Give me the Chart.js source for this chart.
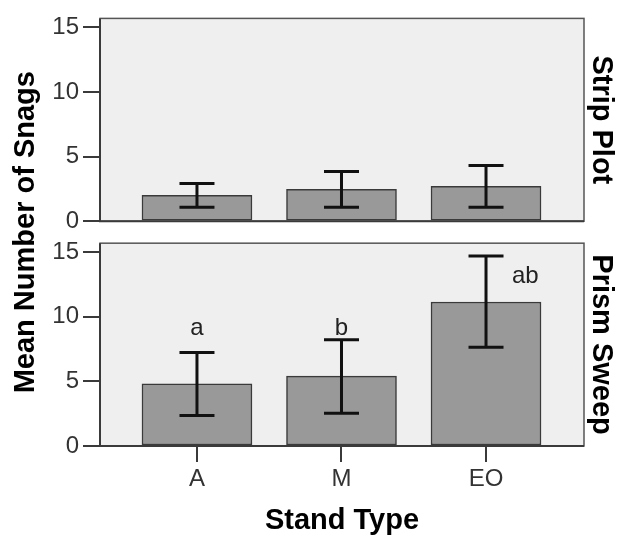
<!DOCTYPE html>
<html lang="en">
<head>
<meta charset="UTF-8">
<title>Mean Number of Snags by Stand Type</title>
<style>
  html, body { margin: 0; padding: 0; background: #fff; }
  #wrap { width: 619px; height: 538px; }
</style>
</head>
<body>
<div id="wrap"><canvas id="snags" width="619" height="538"></canvas></div>
<script src="https://cdn.jsdelivr.net/npm/chart.js@4.4.1/dist/chart.umd.min.js"></script>
<script>
// stand types along the x axis
const standTypes = ['A', 'M', 'EO'];
// facet names shown on the right
const panelNames = ['Strip Plot', 'Prism Sweep'];
const yTicks = [0, 5, 10, 15];

// strip plot: means and error bar ends
const stripMean = [2.0, 2.46, 2.7];
const stripLow  = [1.08, 1.08, 1.08];
const stripHigh = [2.92, 3.85, 4.31];

// prism sweep: means, error bar ends and group letters
const prismMean = [4.82, 5.41, 11.15];
const prismLow  = [2.36, 2.54, 7.64];
const prismHigh = [7.23, 8.23, 14.7];
const prismLetters = ['a', 'b', 'ab'];

const FONT = "'Liberation Sans', Arial, sans-serif";
const frameColor = '#3a3a3a';
const panelTop = 15.7;   // top of each panel, in data units

const toPoints = arr => arr.map((v, i) => ({x: i, y: v}));

// panel backgrounds, frames, error bars and letters
const panelPlugin = {
  id: 'panels',
  beforeDatasetsDraw(chart) {
    const {ctx, chartArea, scales} = chart;
    ctx.save();
    ctx.fillStyle = '#efefef';
    ['y1', 'y2'].forEach(id => {
      const top = scales[id].getPixelForValue(panelTop);
      const bot = scales[id].getPixelForValue(0);
      ctx.fillRect(chartArea.left, top, chartArea.right - chartArea.left, bot - top);
    });
    ctx.restore();
  },
  afterDatasetsDraw(chart) {
    const {ctx, chartArea, scales} = chart;
    const xs = scales.x;
    ctx.save();

    // frames
    ['y1', 'y2'].forEach(id => {
      const top = scales[id].getPixelForValue(panelTop);
      const bot = scales[id].getPixelForValue(0);
      ctx.strokeStyle = '#555';
      ctx.lineWidth = 1.5;
      ctx.strokeRect(chartArea.left, top, chartArea.right - chartArea.left, bot - top);
      ctx.strokeStyle = frameColor;
      ctx.lineWidth = 2;
      ctx.beginPath();
      ctx.moveTo(chartArea.left, top);
      ctx.lineTo(chartArea.left, bot);
      ctx.lineTo(chartArea.right, bot);
      ctx.stroke();
    });

    // error bars
    const errs = [['y1', stripLow, stripHigh], ['y2', prismLow, prismHigh]];
    ctx.strokeStyle = '#111';
    ctx.lineWidth = 3;
    errs.forEach(([id, lo, hi]) => {
      const ys = scales[id];
      lo.forEach((v, i) => {
        const px = xs.getPixelForValue(i);
        const y0 = ys.getPixelForValue(v), y1 = ys.getPixelForValue(hi[i]);
        ctx.beginPath();
        ctx.moveTo(px, y0); ctx.lineTo(px, y1);
        ctx.moveTo(px - 17.5, y0); ctx.lineTo(px + 17.5, y0);
        ctx.moveTo(px - 17.5, y1); ctx.lineTo(px + 17.5, y1);
        ctx.stroke();
      });
    });

    // group letters in the prism sweep panel
    const ys = scales.y2;
    const topPx = ys.getPixelForValue(panelTop);
    const above = prismHigh.map(v => ys.getPixelForValue(v)).filter(p => p - 40 > topPx);
    const level = Math.min(...above) - 5;
    ctx.font = '24px ' + FONT;
    ctx.fillStyle = '#222';
    ctx.textBaseline = 'alphabetic';
    prismLetters.forEach((t, i) => {
      const px = xs.getPixelForValue(i);
      const py = ys.getPixelForValue(prismHigh[i]);
      if (py - 40 > topPx) {
        ctx.textAlign = 'center';
        ctx.fillText(t, px, level);
      } else {
        ctx.textAlign = 'left';
        ctx.fillText(t, px + 26, py + 27);
      }
    });
    ctx.restore();
  }
};

const tickFont = {family: FONT, size: 24};
const titleFont = {family: FONT, size: 29, weight: 'bold'};

function panelAxis(min, max, weight) {
  return {
    type: 'linear', position: 'left', stack: 'panels', stackWeight: 1, weight: weight,
    min: min, max: max,
    afterBuildTicks: s => { s.ticks = yTicks.map(v => ({value: v})); },
    afterFit: s => { s.width = 50; },
    ticks: {font: tickFont, color: '#333', padding: 4},
    grid: {drawOnChartArea: false, drawTicks: true, tickLength: 17, color: frameColor, lineWidth: 2},
    border: {display: false}
  };
}

// right-hand facet labels; stack weights follow the panel heights and the gap
function labelAxis(text, weight, share) {
  return {
    type: 'linear', position: 'right', stack: 'facets', stackWeight: share, weight: weight,
    display: text !== '',
    afterFit: s => { s.width = 35; },
    ticks: {display: false},
    grid: {display: false},
    border: {display: false},
    title: {display: text !== '', text: text, font: titleFont, color: '#000', padding: {top: 1, bottom: 0}}
  };
}

new Chart(document.getElementById('snags'), {
  type: 'bar',
  data: {
    datasets: [
      {
        label: panelNames[0], data: toPoints(stripMean), yAxisID: 'y1',
        backgroundColor: '#999999', borderColor: frameColor, borderWidth: 1.5,
        borderSkipped: false, barThickness: 110, grouped: false
      },
      {
        label: panelNames[1], data: toPoints(prismMean), yAxisID: 'y2',
        backgroundColor: '#999999', borderColor: frameColor, borderWidth: 1.5,
        borderSkipped: false, barThickness: 110, grouped: false
      }
    ]
  },
  options: {
    responsive: false,
    devicePixelRatio: 1,
    animation: false,
    layout: {padding: {top: 16, left: 0, right: 0, bottom: 0}},
    plugins: {legend: {display: false}, tooltip: {enabled: false}},
    scales: {
      x: {
        type: 'linear', position: 'bottom', min: -0.671, max: 2.678, offset: false,
        afterBuildTicks: s => { s.ticks = standTypes.map((_, i) => ({value: i})); },
        afterFit: s => { s.height = 92; },
        ticks: {font: tickFont, color: '#333', padding: 3, callback: v => standTypes[v]},
        grid: {offset: false, drawOnChartArea: false, drawTicks: true, tickLength: 16, color: frameColor, lineWidth: 2},
        border: {display: false},
        title: {display: true, text: 'Stand Type', font: titleFont, color: '#000', padding: {top: 0, bottom: 0}}
      },
      yt: {
        type: 'linear', position: 'left', weight: 2,
        afterFit: s => { s.width = 50; },
        ticks: {display: false},
        grid: {display: false},
        border: {display: false},
        title: {display: true, text: 'Mean Number of Snags', font: titleFont, color: '#000', padding: {top: 9, bottom: 0}}
      },
      y1: panelAxis(-0.85, panelTop, 1),
      y2: panelAxis(0, 16.55, 0),
      r1: labelAxis(panelNames[0], 0, 204),
      rgap: labelAxis('', 1, 22),
      r2: labelAxis(panelNames[1], 2, 204)
    }
  },
  plugins: [panelPlugin]
});
</script>
</body>
</html>
